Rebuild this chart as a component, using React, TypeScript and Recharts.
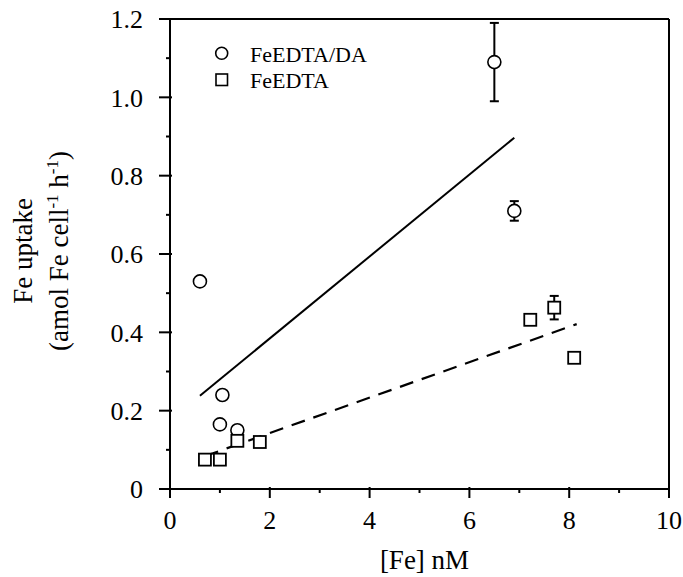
import {
  ErrorBar,
  ReferenceLine,
  Scatter,
  ScatterChart,
  XAxis,
  YAxis,
} from "recharts";

// [Fe] nM and uptake for each treatment
const daX = [0.6, 1.05, 1.0, 1.35, 6.5, 6.9];
const daY = [0.53, 0.24, 0.165, 0.15, 1.09, 0.71];
const daErr = [0, 0, 0, 0, 0.1, 0.025];

const edX = [0.7, 1.0, 1.35, 1.8, 7.22, 7.7, 8.1];
const edY = [0.075, 0.075, 0.123, 0.12, 0.432, 0.463, 0.335];
const edErr = [0, 0, 0, 0, 0, 0.03, 0];

// regression lines (end points)
const daFitX = [0.6, 6.9];
const daFitY = [0.238, 0.897];
const edFitX = [0.7, 8.15];
const edFitY = [0.084, 0.421];

const xTicks = [0, 1, 2, 3, 4, 5, 6, 7, 8, 9, 10];
const yTicks = [0, 0.1, 0.2, 0.3, 0.4, 0.5, 0.6, 0.7, 0.8, 0.9, 1.0, 1.1, 1.2];

const legendNames = ["FeEDTA/DA", "FeEDTA"];

const FONT = "'Liberation Serif', 'Times New Roman', 'DejaVu Serif', serif";

const toPoints = (xs: number[], ys: number[], errs?: number[]) =>
  xs.map((x, i) => ({ x, y: ys[i], err: errs ? errs[i] : 0 }));

const daData = toPoints(daX, daY, daErr);
const edData = toPoints(edX, edY, edErr);
const daFit = toPoints(daFitX, daFitY);
const edFit = toPoints(edFitX, edFitY);

const Circle = (p: any) => (
  <circle cx={p.cx} cy={p.cy} r={6.5} fill="#fff" stroke="#000" strokeWidth={1.6} />
);
const Square = (p: any) => (
  <rect x={p.cx - 6} y={p.cy - 6} width={12} height={12} fill="#fff" stroke="#000" strokeWidth={1.8} />
);
const NoDot = () => <g />;

// major ticks carry a label and a longer mark, minor ones a short mark
const XTick = ({ x, y, payload }: any) => {
  const v = payload.value;
  const major = v % 2 === 0;
  return (
    <g>
      <line x1={x} x2={x} y1={y - (major ? 2 : 0)} y2={y + (major ? 9 : 4)} stroke="#000" strokeWidth={2} />
      {major && (
        <text x={x} y={y + 40} textAnchor="middle" fontSize={26} fill="#000" style={{ fontFamily: FONT }}>
          {String(v)}
        </text>
      )}
    </g>
  );
};

const YTick = ({ x, y, payload }: any) => {
  const k = Math.round(payload.value * 10);
  const major = k % 2 === 0;
  const label = k === 0 ? "0" : (k / 10).toFixed(1);
  return (
    <g>
      <line x1={x - (major ? 11 : 4)} x2={x + (major ? 2 : 0)} y1={y} y2={y} stroke="#000" strokeWidth={2} />
      {major && (
        <text x={x - 27} y={y} dy="0.36em" textAnchor="end" fontSize={26} fill="#000" style={{ fontFamily: FONT }}>
          {label}
        </text>
      )}
    </g>
  );
};

const YTitle = (props: any) => {
  const cy = props.viewBox ? props.viewBox.y + props.viewBox.height / 2 - 3 : 252;
  return (
    <g style={{ fontFamily: FONT }} fontSize={27} fill="#000">
      <text x={32} y={cy} textAnchor="middle" transform={`rotate(-90 32 ${cy})`}>
        Fe uptake
      </text>
      <text x={68} y={cy} textAnchor="middle" transform={`rotate(-90 68 ${cy})`}>
        (amol Fe cell
        <tspan dy={-10} fontSize={17}>-1</tspan>
        <tspan dy={10}> h</tspan>
        <tspan dy={-10} fontSize={17}>-1</tspan>
        <tspan dy={10}>)</tspan>
      </text>
    </g>
  );
};

const XTitle = (props: any) => {
  const cx = props.viewBox ? props.viewBox.x + props.viewBox.width / 2 + 5 : 425;
  return (
    <text x={cx} y={569} textAnchor="middle" fontSize={27} fill="#000" style={{ fontFamily: FONT }}>
      [Fe] nM
    </text>
  );
};

export default function App() {
  return (
    <div style={{ position: "absolute", left: 0, top: 0, background: "#fff", fontFamily: FONT }}>
      <ScatterChart
        width={683}
        height={577}
        margin={{ top: 19, right: 14, bottom: 0, left: 0 }}
        style={{ fontFamily: FONT }}
      >
        <XAxis
          type="number"
          dataKey="x"
          domain={[0, 10]}
          ticks={xTicks}
          interval={0}
          height={88}
          stroke="#000"
          strokeWidth={2}
          tickSize={0}
          tickMargin={0}
          tickLine={false}
          tick={<XTick />}
          label={<XTitle />}
        />
        <YAxis
          type="number"
          dataKey="y"
          domain={[0, 1.2]}
          ticks={yTicks}
          interval={0}
          width={170}
          stroke="#000"
          strokeWidth={2}
          tickSize={0}
          tickMargin={0}
          tickLine={false}
          tick={<YTick />}
          label={<YTitle />}
        />
        <ReferenceLine y={1.2} stroke="#000" strokeWidth={2} />
        <ReferenceLine x={10} stroke="#000" strokeWidth={2} />
        <Scatter
          data={daFit}
          line={{ stroke: "#000", strokeWidth: 2 }}
          shape={NoDot}
          legendType="none"
          isAnimationActive={false}
        />
        <Scatter
          data={edFit}
          line={{ stroke: "#000", strokeWidth: 2.2, strokeDasharray: "14 9" }}
          shape={NoDot}
          legendType="none"
          isAnimationActive={false}
        />
        <Scatter data={daData} shape={Circle} isAnimationActive={false}>
          <ErrorBar dataKey="err" direction="y" width={4.5} stroke="#000" strokeWidth={2} />
        </Scatter>
        <Scatter data={edData} shape={Square} isAnimationActive={false}>
          <ErrorBar dataKey="err" direction="y" width={4.5} stroke="#000" strokeWidth={2} />
        </Scatter>
      </ScatterChart>
      <svg
        width={200}
        height={70}
        style={{ position: "absolute", left: 210, top: 38, fontFamily: FONT }}
      >
        <circle cx={11.7} cy={15.3} r={6} fill="#fff" stroke="#000" strokeWidth={1.6} />
        <text x={40} y={23.7} fontSize={22} fill="#000">{legendNames[0]}</text>
        <rect x={6} y={36} width={11.5} height={11.5} fill="#fff" stroke="#000" strokeWidth={1.6} />
        <text x={40} y={50.3} fontSize={22} fill="#000">{legendNames[1]}</text>
      </svg>
    </div>
  );
}
